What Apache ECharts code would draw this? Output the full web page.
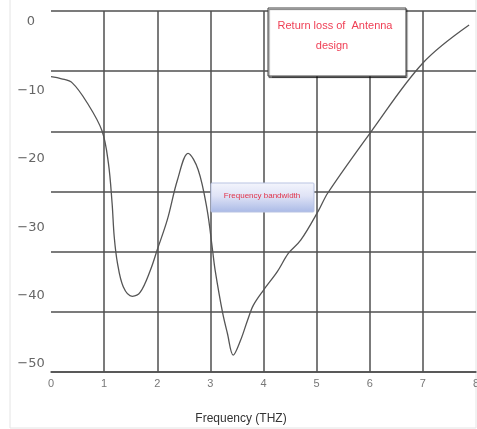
<!DOCTYPE html>
<html>
<head>
<meta charset="utf-8">
<script src="https://cdn.jsdelivr.net/npm/echarts@6/dist/echarts.min.js"></script>
<style>
  html, body { margin: 0; padding: 0; background: #fff; }
  #chart { width: 477px; height: 429px; }
</style>
</head>
<body>
<div id="chart"></div>
<script>
// Return loss curve of the antenna (frequency in THz, return loss in dB)
const frequency = [0, 0.2, 0.4, 0.68, 0.96, 1.08, 1.15, 1.19, 1.25, 1.36, 1.53, 1.68, 1.87, 2.0, 2.19, 2.38, 2.58, 2.77, 2.94, 3.04, 3.09, 3.23, 3.32, 3.43, 3.57, 3.70, 3.81, 4.0, 4.26, 4.47, 4.70, 5.04, 5.21, 6.02, 7.0, 7.87];
const returnLoss = [-8.0, -8.3, -8.9, -11.8, -15.9, -20.6, -26.5, -31.4, -35.2, -38.7, -40.1, -39.5, -36.3, -33.3, -28.9, -23.1, -19.2, -21.6, -27.5, -33.3, -36.3, -42.5, -45.5, -48.7, -46.5, -43.6, -41.4, -39.2, -36.5, -33.8, -31.9, -27.5, -25.0, -16.1, -6.0, -0.44];

const yTickLabels = [0, -10, -20, -30, -40, -50];
const xTicks = [0, 1, 2, 3, 4, 5, 6, 7, 8];

const titleLines = ['Return loss of  Antenna', 'design'];
const bandLabel = 'Frequency bandwidth';
const xAxisName = 'Frequency (THZ)';

const gridColor = '#4f4f4f';
const narrowFont = 'Liberation Sans Narrow, Liberation Sans, sans-serif';
const chart = echarts.init(document.getElementById('chart'), null, { renderer: 'canvas' });

chart.setOption({
  backgroundColor: '#ffffff',
  animation: false,
  grid: { left: 51, right: 1, top: 11, bottom: 57, containLabel: false, outerBoundsMode: 'none' },
  xAxis: {
    type: 'value',
    min: xTicks[0],
    max: xTicks[xTicks.length - 1],
    interval: 1,
    name: xAxisName,
    nameLocation: 'middle',
    nameGap: 41,
    nameTextStyle: {
      fontFamily: narrowFont,
      fontSize: 12,
      color: '#333',
      padding: [0, 45, 0, 0]
    },
    axisLine: { show: true, onZero: false, lineStyle: { color: gridColor, width: 1.5 } },
    axisTick: { show: false },
    axisLabel: {
      margin: 6,
      color: '#777',
      fontFamily: narrowFont,
      fontSize: 11
    },
    splitLine: {
      show: true,
      showMinLine: false,
      showMaxLine: false,
      lineStyle: { color: gridColor, width: 1.5 }
    }
  },
  yAxis: [
    {
      // value scale for the curve and its tick labels
      type: 'value',
      min: -51.17,
      max: 1.61,
      axisLine: { show: false },
      axisTick: { show: false },
      splitLine: { show: false },
      axisLabel: {
        customValues: yTickLabels,
        align: 'center',
        margin: 20,
        color: '#666',
        fontFamily: 'DejaVu Sans, sans-serif',
        fontSize: 13,
        formatter: v => String(v).replace('-', '\u2212')
      }
    },
    {
      // evenly spaced horizontal rules
      type: 'value',
      min: 0,
      max: 6,
      interval: 1,
      position: 'left',
      axisLine: { show: false },
      axisTick: { show: false },
      axisLabel: { show: false },
      splitLine: { show: true, lineStyle: { color: gridColor, width: 1.5 } }
    }
  ],
  series: [
    {
      type: 'line',
      yAxisIndex: 0,
      data: frequency.map((f, i) => [f, returnLoss[i]]),
      smooth: 0.35,
      showSymbol: false,
      lineStyle: { color: '#555', width: 1.3 },
      z: 3
    }
  ],
  graphic: [
    {
      type: 'rect',
      silent: true,
      shape: { x: 10, y: -2, width: 466, height: 430 },
      style: { fill: 'none', stroke: '#e4e4e4', lineWidth: 1 },
      z: 0
    },
    {
      type: 'rect',
      z: 100,
      shape: { x: 268, y: 8, width: 138, height: 68 },
      style: {
        fill: '#ffffff',
        stroke: '#444',
        lineWidth: 1,
        shadowColor: 'rgba(0,0,0,0.55)',
        shadowOffsetX: 1,
        shadowOffsetY: 1.5,
        shadowBlur: 1
      }
    },
    {
      type: 'text',
      z: 101,
      style: {
        x: 335, y: 26,
        text: titleLines[0],
        fill: '#ef3f55',
        fontFamily: narrowFont,
        fontSize: 11,
        align: 'center',
        verticalAlign: 'middle'
      }
    },
    {
      type: 'text',
      z: 101,
      style: {
        x: 332, y: 46,
        text: titleLines[1],
        fill: '#ef3f55',
        fontFamily: narrowFont,
        fontSize: 11,
        align: 'center',
        verticalAlign: 'middle'
      }
    },
    {
      type: 'rect',
      z: 100,
      shape: { x: 211, y: 183, width: 103, height: 29, r: 1 },
      style: {
        fill: new echarts.graphic.LinearGradient(0, 0, 0, 1, [
          { offset: 0, color: '#f4f5fc' },
          { offset: 0.45, color: '#dfe3f6' },
          { offset: 1, color: '#a9b9e6' }
        ]),
        stroke: '#b9c3e2',
        lineWidth: 1
      }
    },
    {
      type: 'text',
      z: 101,
      style: {
        x: 262, y: 196,
        text: bandLabel,
        fill: '#e0334a',
        fontFamily: narrowFont,
        fontSize: 8,
        align: 'center',
        verticalAlign: 'middle'
      }
    }
  ]
});
</script>
</body>
</html>
